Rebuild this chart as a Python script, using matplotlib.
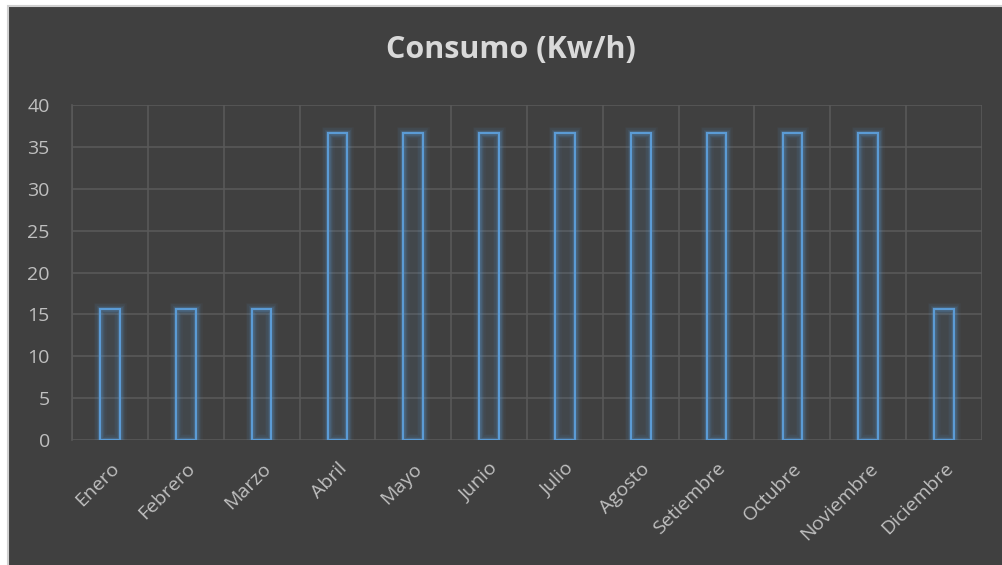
import matplotlib.pyplot as plt
import numpy as np
from matplotlib.patches import Rectangle

meses = ['Enero', 'Febrero', 'Marzo', 'Abril', 'Mayo', 'Junio', 'Julio',
         'Agosto', 'Setiembre', 'Octubre', 'Noviembre', 'Diciembre']
consumo = [15.6, 15.6, 15.6, 36.7, 36.7, 36.7, 36.7, 36.7, 36.7, 36.7, 36.7, 15.6]
yticks = [0, 5, 10, 15, 20, 25, 30, 35, 40]

plt.rcParams['font.family'] = ['Open Sans', 'DejaVu Sans']

fondo = '#404040'
rejilla = '#595959'
texto = '#bfbfbf'
azul = '#5b9bd5'

fig = plt.figure(figsize=(10.02, 5.65), dpi=100, facecolor='white')
fig.patches.append(Rectangle((8 / 1002, -0.05), 1.1, 1.05 - 6 / 565,
                             transform=fig.transFigure, facecolor=fondo,
                             edgecolor='#d0d0d0', linewidth=1.5, zorder=-10))

ax = fig.add_axes([72 / 1002, 1 - 440 / 565, 910 / 1002, 335 / 565])
ax.set_facecolor('none')

x = np.arange(len(meses))
ancho = 0.26

# brillo alrededor de las barras
for lw, a in [(9, 0.05), (7, 0.07), (5, 0.1), (3.5, 0.15)]:
    ax.bar(x, consumo, width=ancho, facecolor='none', edgecolor=azul,
           linewidth=lw, alpha=a, zorder=3)
ax.bar(x, consumo, width=ancho, facecolor=azul, alpha=0.08, zorder=3)
ax.bar(x, consumo, width=ancho, facecolor='none', edgecolor=azul,
       linewidth=1.6, zorder=4)

ax.set_xlim(-0.5, len(meses) - 0.5)
ax.set_ylim(0, 40)
ax.set_yticks(yticks)
ax.set_yticklabels([str(v) for v in yticks])
ax.set_xticks(x)
ax.set_xticklabels(meses, rotation=45, ha='right', va='top', rotation_mode='anchor')
ax.set_xticks(np.arange(-0.5, len(meses), 1), minor=True)

ax.grid(axis='y', which='major', color=rejilla, linewidth=1.2, zorder=1)
ax.grid(axis='x', which='minor', color=rejilla, linewidth=1.2, zorder=1)
ax.set_axisbelow(True)

ax.tick_params(axis='both', which='both', length=0, colors=texto, labelsize=14)
ax.tick_params(axis='y', pad=16)
ax.tick_params(axis='x', pad=14)
for s in ax.spines.values():
    s.set_visible(False)
ax.spines['left'].set_visible(True)
ax.spines['left'].set_color(rejilla)
ax.spines['left'].set_linewidth(1.2)

fig.text(0.51, 1 - 50 / 565, 'Consumo (Kw/h)', ha='center', va='center',
         fontsize=22, fontweight='bold', color='#d9d9d9')

fig.savefig('out.png', dpi=100, facecolor=fig.get_facecolor())
